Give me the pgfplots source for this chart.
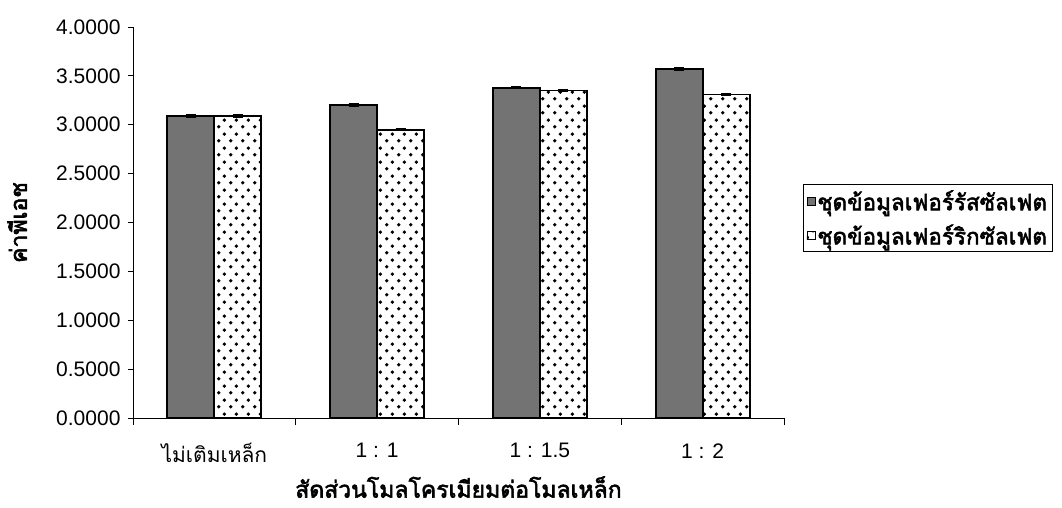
\documentclass[border=0pt]{standalone}
\usepackage{fontspec}
\setmainfont{Liberation Sans}
\newfontfamily\thai[Script=Thai]{Loma}
\newfontfamily\thaibold[Script=Thai, FakeBold=2.5]{Loma}
\usepackage{pgfplots}
\pgfplotsset{compat=1.18}
\usetikzlibrary{patterns}

% dot fill like the Excel "dotted" bar
\pgfdeclarepatternformonly{sparsedots}{\pgfpointorigin}{\pgfpoint{12pt}{14pt}}{\pgfpoint{12pt}{14pt}}{%
  \pgfpathcircle{\pgfpoint{3pt}{3.5pt}}{2pt}%
  \pgfpathcircle{\pgfpoint{9pt}{10.5pt}}{2pt}%
  \pgfusepath{fill}}

\begin{document}
\begin{tikzpicture}
\useasboundingbox (0,0) rectangle (1062pt,507pt);
\begin{axis}[
    at={(133pt,89pt)}, anchor=south west,
    scale only axis,
    width=651pt, height=391pt,
    ybar=0pt, bar width=47pt,
    xmin=-0.5, xmax=3.5, ymin=0, ymax=4,
    axis x line*=bottom, axis y line*=left,
    axis line style={-, line width=1pt},
    tick align=outside,
    major tick length=5pt, minor tick length=7pt,
    xtick={0,1,2,3},
    xticklabels={{\thai\fontsize{21}{24}\selectfont ไม่เติมเหล็ก},{1 : 1},{1 : 1.5},{1 : 2}},
    minor xtick={-0.5,0.5,1.5,2.5,3.5},
    major x tick style={draw=none},
    every tick/.style={black, line width=0.8pt},
    ytick={0,0.5,1,1.5,2,2.5,3,3.5,4},
    /pgf/number format/assume math mode=true,
    yticklabel style={xshift=-4pt, /pgf/number format/.cd, fixed, fixed zerofill, precision=4},
    tick label style={font=\fontsize{21}{24}\selectfont, black},
    xticklabel style={yshift=-17pt},
    xlabel={\thaibold สัดส่วนโมลโครเมียมต่อโมลเหล็ก},
    ylabel={\thaibold ค่าพีเอช},
    label style={font=\fontsize{23}{26}\selectfont},
    xlabel style={at={(axis description cs:0.5,-0.1765)}, anchor=center},
    ylabel style={at={(axis description cs:-0.178,0.5)}, anchor=center},
    error bars/y dir=both, error bars/y explicit,
    error bars/error bar style={black, line width=1pt},
    error bars/error mark options={black, rotate=90, mark size=5pt, line width=2.5pt},
    legend style={at={(axis description cs:1.0292,0.5985)}, anchor=north west,
        draw=black, line width=1pt, inner xsep=3pt, inner ysep=4pt,
        font=\thaibold\fontsize{22.5}{25}\selectfont, row sep=9pt,
        legend cell align=left},
    legend image code/.code={\draw[#1, line width=0.8pt] (0pt,-4pt) rectangle (8pt,4pt);},
]
% ferrous sulfate series
\addplot[draw=black, line width=1.8pt, fill=black!55]
    coordinates {(0,3.09) +- (0,0.005) (1,3.20) +- (0,0.005) (2,3.38) +- (0,0.005) (3,3.57) +- (0,0.005)};
% ferric sulfate series
\addplot[draw=black, line width=1.8pt, pattern=sparsedots]
    coordinates {(0,3.09) +- (0,0.005) (1,2.95) +- (0,0.005) (2,3.35) +- (0,0.005) (3,3.31) +- (0,0.005)};
\legend{ชุดข้อมูลเฟอร์รัสซัลเฟต, ชุดข้อมูลเฟอร์ริกซัลเฟต}
\end{axis}
\end{tikzpicture}
\end{document}
